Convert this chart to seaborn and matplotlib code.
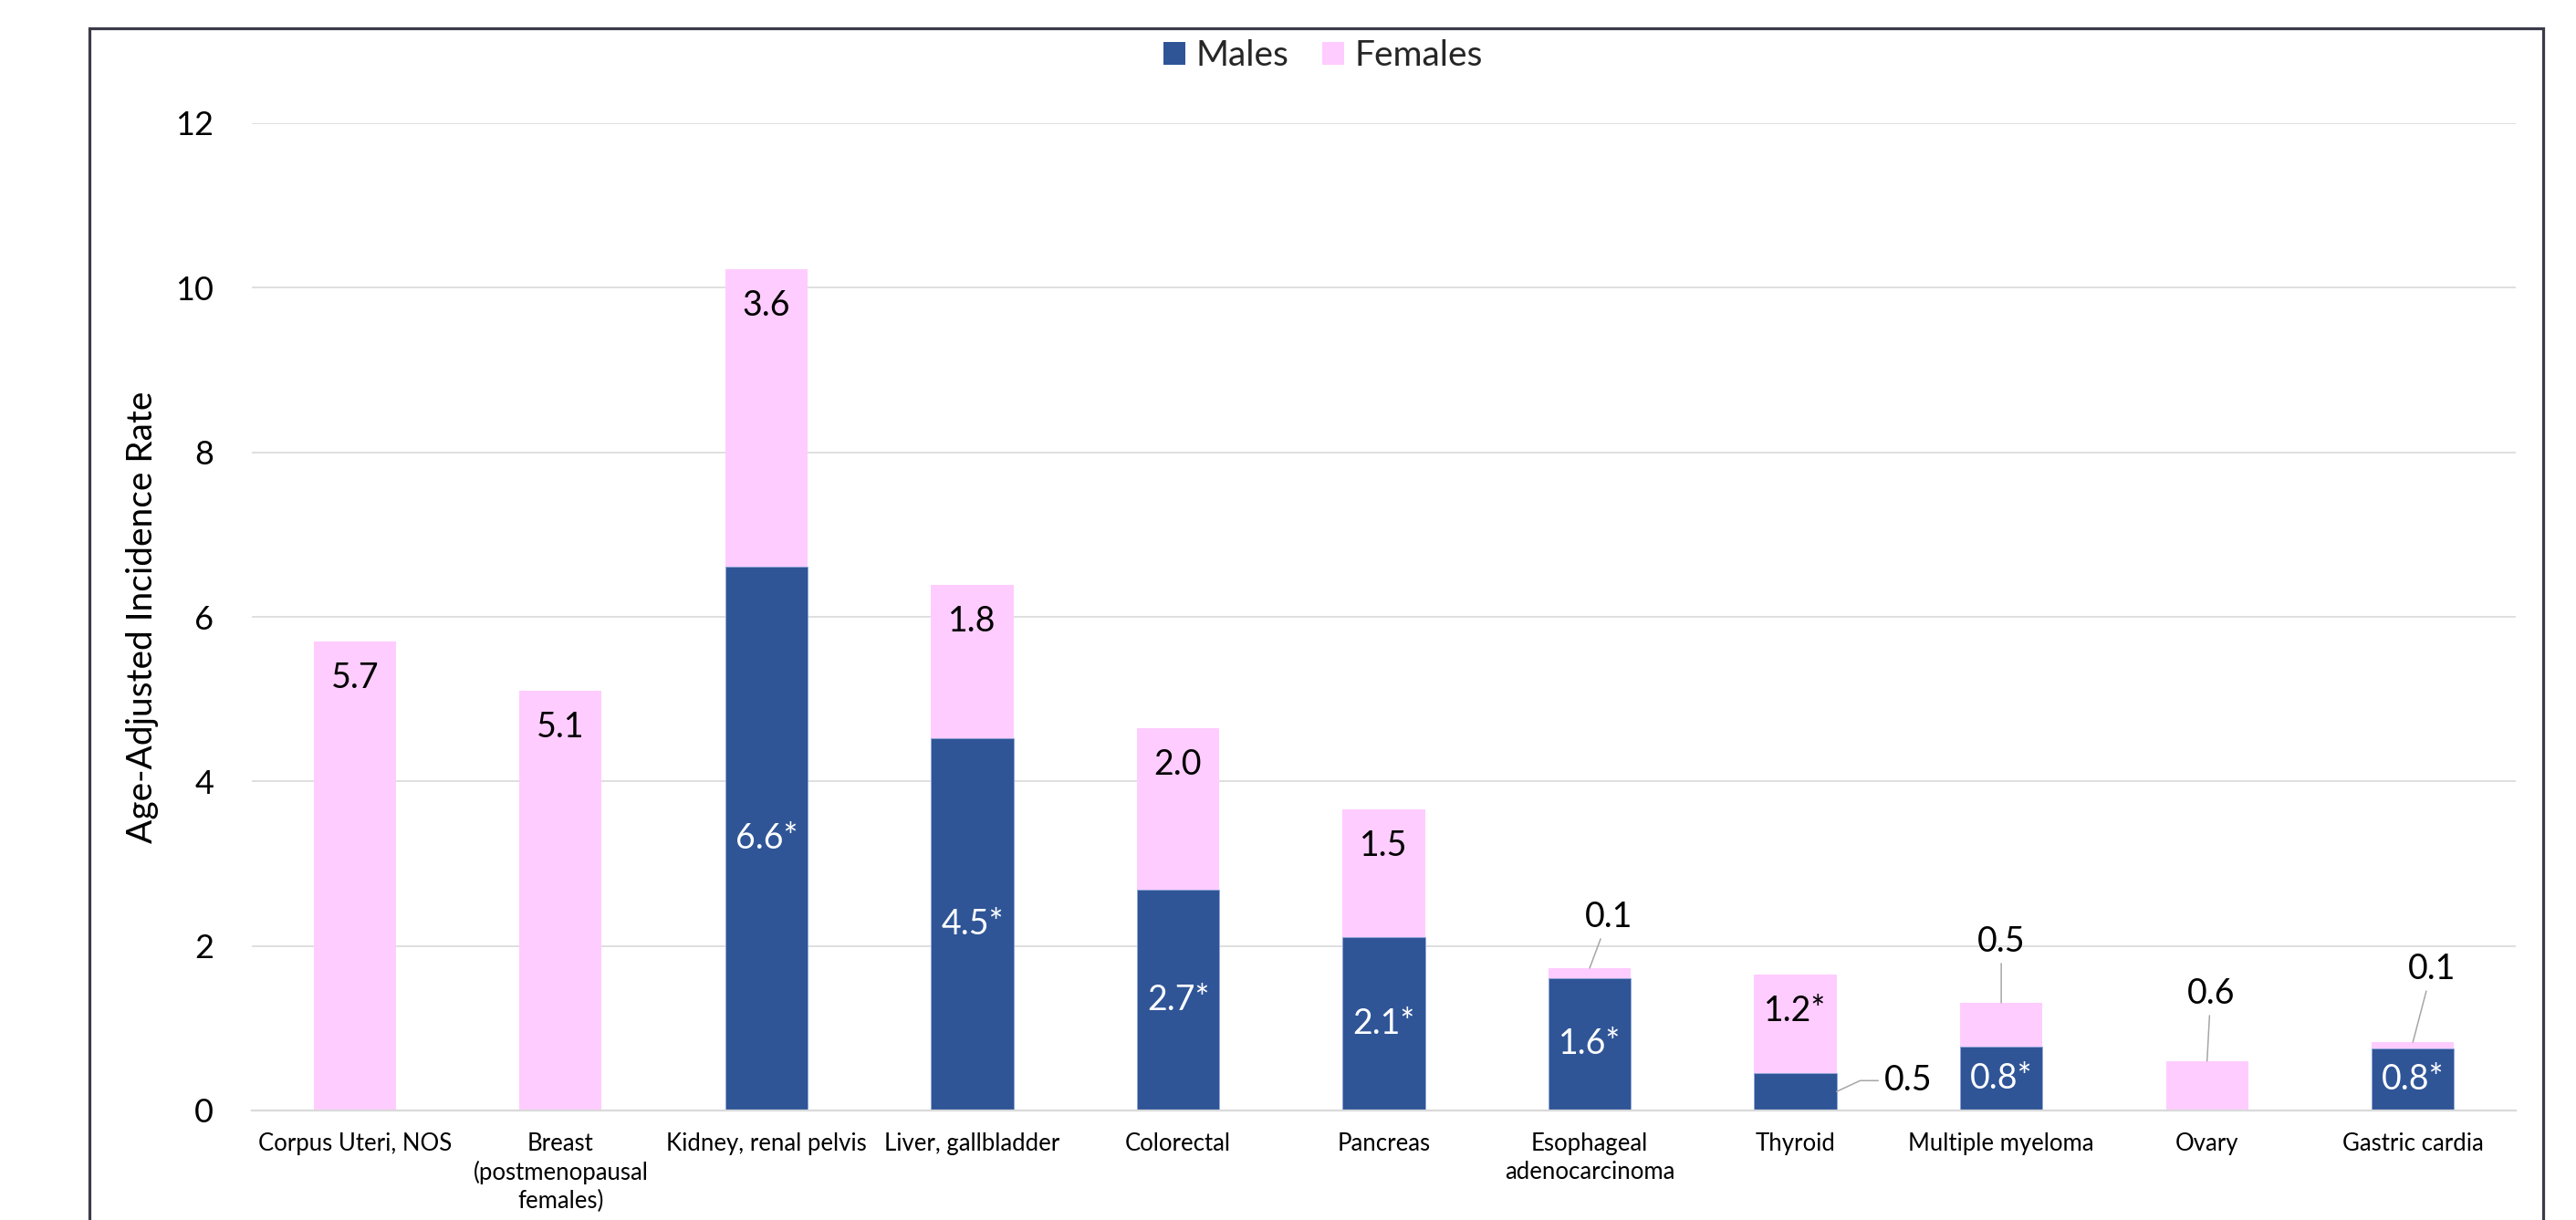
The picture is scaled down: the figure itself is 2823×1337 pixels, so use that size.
import matplotlib
matplotlib.use("Agg")
import matplotlib.pyplot as plt
from matplotlib.patches import Patch, Rectangle
import seaborn as sns
import pandas as pd

# ---------------- data ----------------
categories = ["Corpus Uteri, NOS", "Breast\n(postmenopausal\nfemales)",
              "Kidney, renal pelvis", "Liver, gallbladder", "Colorectal",
              "Pancreas", "Esophageal\nadenocarcinoma", "Thyroid",
              "Multiple myeloma", "Ovary", "Gastric cardia"]
males = [0, 0, 6.61, 4.53, 2.68, 2.11, 1.61, 0.46, 0.78, 0, 0.75]
females = [5.70, 5.10, 3.61, 1.86, 1.97, 1.55, 0.12, 1.19, 0.53, 0.60, 0.08]
male_labels = ["", "", "6.6*", "4.5*", "2.7*", "2.1*", "1.6*", "0.5", "0.8*", "", "0.8*"]
female_labels = ["5.7", "5.1", "3.6", "1.8", "2.0", "1.5", "0.1", "1.2*", "0.5", "0.6", "0.1"]
y_ticks = [0, 2, 4, 6, 8, 10, 12]
series_names = ["Males", "Females"]

# ---------------- style ----------------
MALE_C = "#2F5597"
FEMALE_C = "#FFCCFF"
GRID_C = "#D9D9D9"
LEAD_C = "#A6A6A6"

sns.set_theme(style="white")
plt.rcParams["font.family"] = ["Lato", "DejaVu Sans"]

W, H, DPI = 2823, 1337, 100
fig = plt.figure(figsize=(W / DPI, H / DPI), dpi=DPI)
ax = fig.add_axes([276 / W, (H - 1217) / H, (2757 - 276) / W, (1217 - 135) / H])

df = pd.DataFrame({"cat": categories, "male": males, "female": females})
df["total"] = df["male"] + df["female"]

sns.barplot(data=df, x="cat", y="total", color=FEMALE_C, saturation=1,
            width=0.4, ax=ax, zorder=3, edgecolor="none")
sns.barplot(data=df, x="cat", y="male", color=MALE_C, saturation=1,
            width=0.4, ax=ax, zorder=4, edgecolor="#8FA8D8", linewidth=0.6)

ax.set_xlim(-0.5, len(categories) - 0.5)
ax.set_ylim(0, 12)
ax.set_yticks(y_ticks)
ax.set_yticklabels([str(t) for t in y_ticks])
ax.yaxis.grid(True, color=GRID_C, linewidth=1.2, zorder=0)
ax.set_axisbelow(True)
for s in ["top", "right", "left"]:
    ax.spines[s].set_visible(False)
ax.spines["bottom"].set_color(GRID_C)
ax.spines["bottom"].set_linewidth(1.6)
ax.spines["bottom"].set_zorder(5)
ax.tick_params(axis="both", length=0)
ax.tick_params(axis="y", labelsize=26, pad=30, labelcolor="black")
ax.tick_params(axis="x", labelsize=18.5, pad=17, labelcolor="black")
for lab in ax.get_xticklabels():
    lab.set_linespacing(1.3)
ax.set_xlabel("")
ax.set_ylabel("Age-Adjusted Incidence Rate", fontsize=28, color="black")
ax.yaxis.set_label_coords((174 - 276) / (2757 - 276), 0.5)

LABEL_FS = 27
# in-bar labels
for i in range(len(categories)):
    tot = males[i] + females[i]
    if i in (0, 1, 2, 3, 4, 5, 7):
        ax.annotate(female_labels[i], xy=(i, tot), xytext=(0, -40),
                    textcoords="offset pixels", ha="center", va="center",
                    fontsize=LABEL_FS, color="black", zorder=6)
    if i not in (0, 1, 7, 9):
        ax.annotate(male_labels[i], xy=(i, males[i] / 2), ha="center",
                    va="center", fontsize=LABEL_FS, color="white", zorder=6)

# leader-line labels (offsets in pixels)
leader_female = {6: (21, 56), 8: (0, 67), 9: (4, 74), 10: (21, 80)}
for i, (dx, dy) in leader_female.items():
    tot = males[i] + females[i]
    ax.annotate(female_labels[i], xy=(i, tot), xytext=(dx, dy),
                textcoords="offset pixels", ha="center", va="center",
                fontsize=LABEL_FS, color="black", zorder=6,
                arrowprops=dict(arrowstyle="-", color=LEAD_C, lw=1.1,
                                shrinkA=2, shrinkB=0))

# thyroid male label with bent leader
ax.annotate(male_labels[7], xy=(7.2, males[7] / 2), xytext=(78, 12),
            textcoords="offset pixels", ha="center", va="center",
            fontsize=LABEL_FS, color="black", zorder=6,
            arrowprops=dict(arrowstyle="-", color=LEAD_C, lw=1.1,
                            shrinkA=2, shrinkB=0,
                            connectionstyle="angle,angleA=180,angleB=25,rad=0"))

# legend
handles = [Patch(facecolor=MALE_C, edgecolor="none", label=series_names[0]),
           Patch(facecolor=FEMALE_C, edgecolor="none", label=series_names[1])]
fig.legend(handles=handles, loc="center", bbox_to_anchor=(1450 / W, 1 - 61 / H),
           ncol=2, frameon=False, fontsize=28, handlelength=0.62,
           handleheight=0.62, handletextpad=0.3, columnspacing=0.95)

# outer chart border
fig.patches.append(Rectangle((98 / W, -0.05), (2787 - 98) / W, 1 - 31 / H + 0.05,
                             transform=fig.transFigure, fill=False,
                             edgecolor="#3B3B4A", linewidth=2.3, zorder=10))

fig.savefig("out.png", dpi=DPI, facecolor="white")
